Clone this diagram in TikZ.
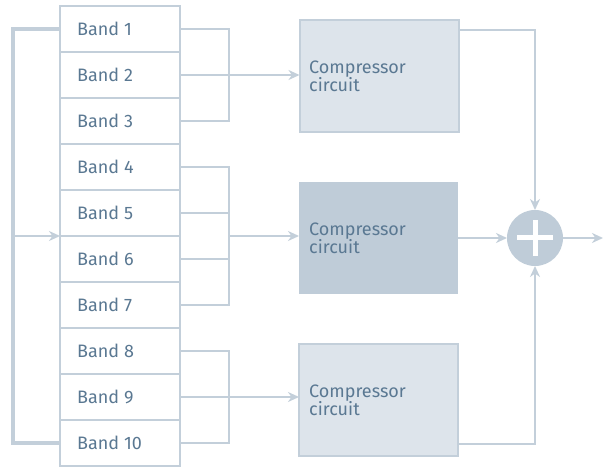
\documentclass[tikz,border=0pt]{standalone}
\usepackage{fontspec}
\setmainfont{Fira Sans}
\usetikzlibrary{arrows.meta,calc}
\definecolor{ln}{HTML}{C3CFDA}
\definecolor{lightfill}{HTML}{DDE4EB}
\definecolor{darkfill}{HTML}{BFCCD8}
\definecolor{txt}{HTML}{5A7892}
\begin{document}
\begin{tikzpicture}[x=1pt,y=-1pt,
  band/.style={draw=ln,line width=2pt,fill=white,minimum width=120pt,minimum height=46pt,inner sep=0pt,outer sep=0pt},
  blabel/.style={anchor=west,text=txt,font=\fontsize{18}{18}\selectfont,inner sep=0pt},
  comp/.style={line width=2pt,minimum width=159pt,minimum height=112pt,inner sep=0pt,outer sep=0pt},
  clabel/.style={anchor=west,text=txt,font=\fontsize{18}{18}\selectfont,align=left,inner sep=0pt},
  wire/.style={draw=ln,line width=2pt},
  arr/.style={wire,-{Stealth[length=11pt,width=10pt,inset=3.5pt]}},
  bus/.style={draw=ln,line width=4pt,line join=miter}]
\useasboundingbox (0,0) rectangle (603,468);
% bands
\foreach \i in {1,...,10}{
  \node[band] (b\i) at (120,{6+46*(\i-1)+23}) {};
  \node[blabel] (t\i) at (77,{6+46*(\i-1)+23}) {Band \i};
}
% compressors
\node[comp,draw=ln,fill=lightfill] (c1) at (379,76) {};
\node[comp,fill=darkfill] (c2) at (378.5,238) {};
\node[comp,draw=ln,fill=lightfill] (c3) at (378.5,400) {};
\node[clabel] (l1) at (309,76) {Compressor\\circuit};
\node[clabel] (l2) at (309,238) {Compressor\\circuit};
\node[clabel] (l3) at (309,400) {Compressor\\circuit};
% sum
\node[circle,fill=darkfill,minimum size=56pt,inner sep=0pt,outer sep=0pt] (s) at (535,238) {};
\draw[white,line width=5pt] ($(s.center)+(-18,0)$) -- ($(s.center)+(18,0)$);
\draw[white,line width=5pt] ($(s.center)+(0,-18)$) -- ($(s.center)+(0,18)$);
% left bus
\coordinate (bt) at (13,29);
\coordinate (bb) at (13,443);
\coordinate (bm) at (13,236);
\draw[bus] (b1.west) -- (bt) -- (bb) -- (b10.west);
\draw[arr] (bm) -- (b5.south west);
% group 1
\draw[wire] (b1.east) -- ++(49,0) |- (b3.east);
\draw[arr] (b2.east) -- (b2.east -| c1.west);
% group 2
\coordinate (g2) at (229,236);
\draw[wire] (b4.east) -- ++(49,0) |- (b7.east);
\draw[wire] (b5.east) -- ++(49,0);
\draw[wire] (b6.east) -- ++(49,0);
\draw[arr] (g2) -- (g2 -| c2.west);
% group 3
\draw[wire] (b8.east) -- ++(49,0) |- (b10.east);
\draw[arr] (b9.east) -- (b9.east -| c3.west);
% outputs
\draw[arr] ($(c1.north east)+(0,10)$) -| (s.north);
\draw[arr] (c2.east) -- (s.west);
\draw[arr] ($(c3.south east)+(0,-12)$) -| (s.south);
\coordinate (out) at (603,238);
\draw[arr] (s.east) -- (out);
\end{tikzpicture}
\end{document}
